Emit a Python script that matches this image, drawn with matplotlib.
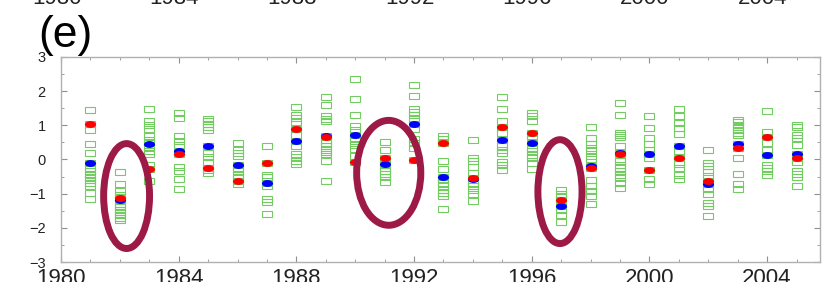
import numpy as np
import matplotlib
matplotlib.use("Agg")
import matplotlib.pyplot as plt
from matplotlib.patches import Ellipse
from matplotlib.markers import MarkerStyle
from matplotlib.transforms import Affine2D, blended_transform_factory

plt.rcParams['font.family'] = ['Liberation Sans', 'DejaVu Sans']

years = list(range(1981, 2006))

# ensemble members (green squares), one list per year
members = [
    [1.44, 1.03, 0.87, 0.46, 0.19, -0.10, -0.24, -0.34, -0.44, -0.53, -0.61, -0.69, -0.78, -0.97, -1.17],
    [-0.37, -0.71, -0.92, -1.05, -1.14, -1.19, -1.31, -1.39, -1.47, -1.54, -1.62, -1.70, -1.77],
    [1.48, 1.12, 1.00, 0.89, 0.68, 0.58, 0.49, 0.37, 0.24, 0.15, -0.15, -0.27, -0.62],
    [1.36, 1.22, 0.70, 0.54, 0.43, 0.24, 0.17, -0.22, -0.35, -0.58, -0.87],
    [1.19, 1.12, 1.03, 0.94, 0.85, 0.40, 0.19, 0.07, -0.06, -0.24, -0.32, -0.39],
    [0.49, 0.29, 0.19, 0.10, -0.17, -0.26, -0.35, -0.44, -0.53, -0.63, -0.71],
    [0.39, -0.10, -0.44, -0.52, -0.68, -0.78, -1.17, -1.25, -1.60],
    [1.55, 1.31, 1.20, 1.10, 0.90, 0.73, 0.55, 0.39, 0.17, 0.07, -0.03, -0.14],
    [1.84, 1.60, 1.26, 1.19, 1.12, 0.68, 0.58, 0.49, 0.39, 0.29, 0.21, 0.15, -0.05, -0.63],
    [2.35, 1.77, 1.31, 0.97, 0.87, 0.73, 0.63, 0.53, 0.41, 0.31, 0.09, -0.06],
    [0.50, 0.29, 0.05, -0.13, -0.24, -0.33, -0.42, -0.52, -0.65],
    [2.18, 1.87, 1.49, 1.40, 1.30, 1.19, 1.05, 0.89, 0.59, 0.49, 0.34, -0.02],
    [0.68, 0.60, 0.47, -0.03, -0.28, -0.50, -0.58, -0.68, -0.78, -0.88, -0.97, -1.07, -1.46],
    [0.58, 0.05, -0.05, -0.22, -0.40, -0.55, -0.68, -0.78, -0.88, -1.02, -1.22],
    [1.82, 1.47, 1.12, 0.94, 0.78, 0.57, 0.39, 0.29, 0.19, -0.07, -0.15, -0.30],
    [1.37, 1.26, 1.12, 0.78, 0.68, 0.48, 0.34, 0.24, 0.14, 0.04, -0.10, -0.27],
    [-0.90, -1.00, -1.10, -1.18, -1.36, -1.49, -1.63, -1.84],
    [0.96, 0.63, 0.46, 0.34, 0.24, 0.10, 0.00, -0.19, -0.24, -0.61, -0.78, -0.92, -1.07, -1.31],
    [1.66, 1.29, 0.78, 0.72, 0.65, 0.39, 0.19, 0.15, -0.05, -0.15, -0.25, -0.35, -0.45, -0.55, -0.68, -0.84],
    [1.27, 0.92, 0.63, 0.44, 0.29, 0.15, 0.03, -0.30, -0.58, -0.72],
    [1.47, 1.26, 1.07, 0.92, 0.76, 0.39, 0.24, 0.04, -0.12, -0.24, -0.44, -0.58],
    [0.29, -0.10, -0.19, -0.38, -0.49, -0.63, -0.73, -0.87, -1.02, -1.28, -1.36, -1.65],
    [1.17, 1.09, 1.02, 0.94, 0.86, 0.78, 0.71, 0.44, 0.34, 0.05, -0.42, -0.73, -0.87],
    [1.41, 0.81, 0.65, 0.49, 0.29, 0.13, -0.15, -0.24, -0.34, -0.46],
    [1.02, 0.94, 0.73, 0.63, 0.42, 0.15, 0.04, -0.07, -0.34, -0.43, -0.51, -0.78],
]

red_vals = [1.03, -1.14, -0.27, 0.17, -0.24, -0.63, -0.10, 0.90, 0.65, -0.06, 0.05, -0.02, 0.47,
            -0.55, 0.94, 0.78, -1.18, -0.24, 0.15, -0.30, 0.04, -0.63, 0.34, 0.65, 0.04]
blue_vals = [-0.10, -1.19, 0.46, 0.24, 0.40, -0.17, -0.68, 0.55, 0.69, 0.73, -0.13, 1.05, -0.50,
             -0.57, 0.57, 0.48, -1.36, -0.19, 0.19, 0.15, 0.39, -0.73, 0.44, 0.13, 0.15]

# highlighted years: (centre year, centre value, width in years, height in values)
ovals = [(1982.23, -1.07, 1.56, 3.07), (1991.14, -0.39, 2.18, 3.07), (1996.96, -0.94, 1.50, 3.04)]

top_labels = ['1980', '1984', '1988', '1992', '1996', '2000', '2004']

fig = plt.figure(figsize=(8.23, 2.82), dpi=100)
ax = fig.add_axes([0.0741, 0.0709, 0.9223, 0.727])

# flat open rectangles and flat dots
rect = MarkerStyle('s', fillstyle='none', transform=Affine2D().scale(1.0, 0.55))
dot = MarkerStyle('o', transform=Affine2D().scale(1.0, 0.62))

for yr, vals in zip(years, members):
    ax.plot([yr] * len(vals), vals, linestyle='none', marker=rect, markersize=7,
            markeredgecolor='#72cc62', markeredgewidth=0.8, zorder=2)

ax.plot(years, blue_vals, linestyle='none', marker=dot, markersize=8,
        color='#0000ff', markeredgewidth=0, zorder=3)
ax.plot(years, red_vals, linestyle='none', marker=dot, markersize=8,
        color='#ff0000', markeredgewidth=0, zorder=4)

for cx, cy, w, h in ovals:
    ax.add_patch(Ellipse((cx, cy), w, h, fill=False, edgecolor='#9e1a46', linewidth=5, zorder=5))

ax.set_xlim(1980, 2005.8)
ax.set_ylim(-3, 3)
ax.set_xticks(range(1980, 2005, 4))
ax.set_xticks(range(1980, 2006), minor=True)
ax.set_yticks(range(-3, 4))
ax.set_yticks(np.arange(-3, 3.01, 0.5), minor=True)

for s in ax.spines.values():
    s.set_color('#b0b0b0')
    s.set_linewidth(1.0)
ax.tick_params(which='both', direction='in', top=True, right=True, color='#909090')
ax.tick_params(which='major', length=4)
ax.tick_params(which='minor', length=2.5)
ax.tick_params(axis='x', labelsize=16, pad=4, labelcolor='#222222')
ax.tick_params(axis='y', labelsize=10.5, pad=11, labelcolor='#222222')

# tick labels of the panel above, cut off by the top edge
top_tr = blended_transform_factory(ax.transData, fig.transFigure)
for lab in top_labels:
    ax.text(int(lab) - 0.15, 1 - 4 / 282, lab, transform=top_tr, ha='center', va='baseline',
            fontsize=16, color='#222222', clip_on=False)

fig.text(38 / 823, 1 - 47 / 282, '(e)', fontsize=32, ha='left', va='baseline', color='black')

fig.savefig('out.png', dpi=100)
